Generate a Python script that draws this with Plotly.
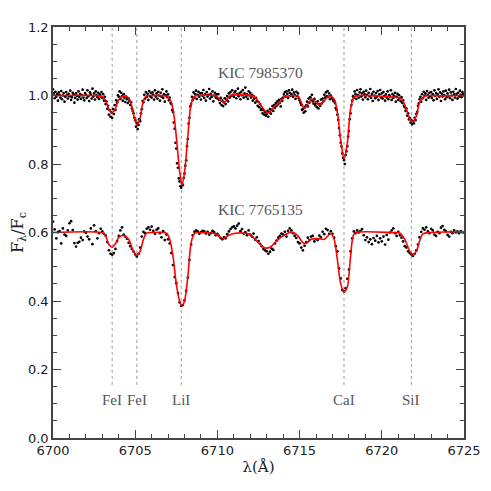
import numpy as np
import plotly.graph_objects as go

# 観測スペクトル（0.05Å刻み / 0.1Å刻み）
top_start, top_step = 6700.0, 0.05
top_flux = [
    1.018, 1.006, 0.992, 1.011, 0.997, 1.004, 0.985, 1.009, 1.002, 0.994, 1.013, 0.989, 1.000, 1.007, 0.982, 0.996, 1.010, 1.001, 0.991, 1.005,
    0.998, 1.014, 0.987, 0.995, 1.008, 1.003, 0.979, 0.993, 1.006, 0.999, 0.988, 1.012, 0.996, 1.004, 0.990, 1.001, 1.017, 0.994, 0.986, 1.007,
    1.002, 0.993, 1.015, 0.998, 0.984, 1.009, 1.003, 0.991, 1.020, 0.997, 1.006, 0.988, 1.012, 1.001, 0.995, 1.008, 0.990, 1.003, 0.997, 1.010,
    0.993, 1.004, 0.985, 0.996, 0.975, 0.983, 0.961, 0.970, 0.944, 0.957, 0.938, 0.951, 0.935, 0.960, 0.946, 0.972, 0.958, 0.986, 0.979, 1.001,
    0.996, 1.012, 0.990, 1.008, 0.998, 0.985, 1.004, 0.993, 0.981, 0.997, 0.989, 0.978, 0.992, 0.984, 0.972, 0.980, 0.962, 0.955, 0.948, 0.935,
    0.928, 0.909, 0.920, 0.902, 0.914, 0.931, 0.925, 0.948, 0.960, 0.984, 0.980, 1.002, 0.991, 1.010, 0.996, 1.005, 0.987, 1.013, 0.998, 1.007,
    0.994, 1.009, 1.002, 0.988, 1.015, 0.997, 1.006, 0.991, 1.011, 1.000, 0.985, 1.008, 0.996, 1.018, 0.993, 1.004, 0.982, 1.001, 1.012, 0.995,
    1.003, 0.986, 0.994, 0.978, 0.975, 0.958, 0.952, 0.921, 0.903, 0.862, 0.845, 0.802, 0.789, 0.758, 0.749, 0.735, 0.731, 0.744, 0.738, 0.759,
    0.772, 0.795, 0.811, 0.852, 0.873, 0.918, 0.935, 0.968, 0.975, 0.996, 0.987, 1.009, 0.993, 1.004, 1.014, 0.990, 1.002, 1.011, 0.996, 1.006,
    0.988, 1.007, 0.999, 1.016, 0.993, 1.004, 0.985, 1.010, 0.997, 1.002, 1.019, 0.991, 1.005, 0.996, 1.012, 0.983, 1.000, 1.008, 0.994, 1.003,
    0.991, 1.004, 0.987, 0.978, 0.993, 0.972, 0.985, 0.969, 0.980, 0.992, 0.975, 0.988, 0.998, 0.983, 1.006, 0.994, 1.010, 0.999, 1.015, 1.002,
    0.996, 1.009, 1.013, 0.992, 1.004, 1.020, 0.998, 1.007, 0.989, 1.011, 1.001, 1.016, 0.994, 1.006, 1.023, 0.997, 1.003, 0.990, 1.012, 1.000,
    1.008, 0.994, 1.002, 0.985, 0.998, 0.991, 0.979, 0.993, 0.984, 0.970, 0.981, 0.966, 0.975, 0.958, 0.962, 0.948, 0.957, 0.944, 0.952, 0.941,
    0.946, 0.955, 0.938, 0.951, 0.960, 0.947, 0.958, 0.969, 0.955, 0.972, 0.964, 0.978, 0.970, 0.983, 0.975, 0.987, 0.979, 0.968, 0.990, 0.984,
    0.994, 1.003, 1.010, 0.997, 1.012, 1.005, 0.993, 1.015, 1.008, 0.999, 1.004, 1.017, 0.996, 1.009, 1.002, 0.990, 1.011, 0.998, 1.006, 0.992,
    0.986, 0.979, 0.972, 0.958, 0.961, 0.950, 0.966, 0.954, 0.971, 0.982, 0.968, 0.991, 0.979, 0.995, 0.987, 1.002, 0.983, 0.976, 0.990, 0.971,
    0.978, 0.966, 0.983, 0.962, 0.975, 0.970, 0.988, 0.977, 0.991, 0.983, 1.002, 0.994, 1.009, 0.998, 1.013, 0.996, 1.006, 0.989, 1.000, 0.993,
    0.991, 0.985, 0.983, 0.978, 0.963, 0.958, 0.944, 0.929, 0.905, 0.884, 0.862, 0.851, 0.831, 0.818, 0.812, 0.800, 0.826, 0.837, 0.852, 0.880,
    0.896, 0.931, 0.948, 0.972, 0.985, 0.998, 0.993, 1.012, 1.004, 0.990, 1.016, 1.001, 0.994, 1.009, 1.018, 0.997, 1.006, 0.988, 1.011, 1.003,
    0.995, 1.014, 1.002, 0.989, 1.008, 0.998, 1.019, 0.993, 1.005, 0.984, 1.011, 1.000, 0.992, 1.007, 0.996, 1.013, 0.987, 1.003, 1.016, 0.994,
    1.006, 0.991, 1.010, 0.998, 0.985, 1.003, 0.994, 1.012, 0.989, 1.001, 0.996, 1.015, 0.987, 1.004, 0.993, 0.999, 1.008, 0.982, 0.996, 1.005,
    0.987, 1.001, 0.992, 0.983, 0.995, 0.978, 0.986, 0.970, 0.965, 0.955, 0.962, 0.941, 0.948, 0.930, 0.935, 0.921, 0.928, 0.916, 0.925, 0.919,
    0.935, 0.928, 0.946, 0.952, 0.970, 0.977, 0.989, 0.996, 0.982, 1.004, 0.992, 1.011, 0.999, 1.006, 0.987, 1.013, 1.002, 0.994, 1.008, 0.998,
    1.010, 0.993, 1.004, 0.986, 1.015, 0.999, 1.007, 0.990, 1.003, 1.018, 0.996, 1.009, 0.984, 1.005, 0.997, 1.012, 1.001, 0.989, 1.014, 0.995,
    1.006, 0.998, 1.017, 0.992, 1.009, 1.000, 0.987, 1.011, 1.003, 0.994, 1.019, 1.005, 0.991, 1.008, 0.997, 1.014, 1.002, 0.995, 1.010, 1.004,
    1.000,
]

bot_start, bot_step = 6700.0, 0.1
bot_flux = [
    0.632, 0.609, 0.583, 0.601, 0.604, 0.568, 0.612, 0.594, 0.590, 0.606,
    0.627, 0.633, 0.607, 0.569, 0.559, 0.570, 0.573, 0.585, 0.578, 0.603,
    0.599, 0.588, 0.580, 0.612, 0.566, 0.621, 0.604, 0.583, 0.598, 0.611,
    0.603, 0.596, 0.591, 0.572, 0.548, 0.538, 0.535, 0.540, 0.552, 0.575,
    0.590, 0.606, 0.615, 0.594, 0.588, 0.582, 0.570, 0.560, 0.552, 0.544,
    0.536, 0.530, 0.538, 0.556, 0.588, 0.602, 0.598, 0.611, 0.615, 0.608,
    0.617, 0.605, 0.596, 0.608, 0.612, 0.598, 0.586, 0.604, 0.578, 0.594,
    0.580, 0.568, 0.540, 0.505, 0.470, 0.452, 0.423, 0.396, 0.386, 0.388,
    0.402, 0.430, 0.468, 0.520, 0.565, 0.592, 0.602, 0.606, 0.603, 0.596,
    0.601, 0.605, 0.603, 0.597, 0.602, 0.594, 0.598, 0.605, 0.601, 0.592,
    0.596, 0.590, 0.584, 0.580, 0.586, 0.583, 0.595, 0.603, 0.610, 0.615,
    0.618, 0.612, 0.620, 0.626, 0.604, 0.610, 0.596, 0.601, 0.592, 0.606,
    0.594, 0.588, 0.597, 0.579, 0.586, 0.575, 0.567, 0.560, 0.552, 0.548,
    0.545, 0.538, 0.544, 0.553, 0.549, 0.568, 0.576, 0.585, 0.590, 0.597,
    0.594, 0.602, 0.588, 0.605, 0.612, 0.606, 0.598, 0.590, 0.584, 0.572,
    0.568, 0.556, 0.548, 0.561, 0.572, 0.585, 0.578, 0.588, 0.590, 0.574,
    0.581, 0.578, 0.591, 0.586, 0.602, 0.595, 0.611, 0.607, 0.596, 0.604,
    0.596, 0.585, 0.560, 0.545, 0.495, 0.466, 0.432, 0.428, 0.437, 0.465,
    0.492, 0.545, 0.583, 0.603, 0.598, 0.606, 0.600, 0.605, 0.610, 0.592,
    0.578, 0.586, 0.572, 0.580, 0.566, 0.584, 0.576, 0.590, 0.571, 0.583,
    0.574, 0.588, 0.565, 0.593, 0.579, 0.600, 0.606, 0.612, 0.598, 0.590,
    0.602, 0.592, 0.585, 0.574, 0.560, 0.556, 0.545, 0.540, 0.536, 0.532,
    0.538, 0.548, 0.565, 0.586, 0.602, 0.612, 0.608, 0.615, 0.603, 0.598,
    0.611, 0.606, 0.594, 0.590, 0.602, 0.598, 0.614, 0.619, 0.608, 0.604,
    0.593, 0.588, 0.602, 0.598, 0.606, 0.600, 0.603, 0.598, 0.604, 0.601,
    0.600,
]

# 合成スペクトル（赤線）の節点
top_model_wl = [6700.0, 6702.5, 6703.0, 6703.2, 6703.4, 6703.6, 6703.8, 6704.0, 6704.2, 6704.5, 6704.7, 6704.9,
                6705.1, 6705.3, 6705.5, 6705.7, 6706.0, 6706.8, 6707.1, 6707.3, 6707.5, 6707.7, 6707.85, 6708.0,
                6708.2, 6708.4, 6708.6, 6708.8, 6709.9, 6710.2, 6710.4, 6710.6, 6710.8, 6712.2, 6712.6, 6713.0,
                6713.2, 6713.5, 6713.8, 6714.1, 6714.5, 6714.9, 6715.1, 6715.3, 6715.5, 6715.75, 6716.0, 6716.2,
                6716.5, 6716.8, 6717.1, 6717.3, 6717.5, 6717.7, 6717.9, 6718.1, 6718.3, 6718.6, 6720.0, 6720.8,
                6721.2, 6721.5, 6721.7, 6721.9, 6722.1, 6722.3, 6722.6, 6723.5, 6725.0]
top_model_flux = [1.000, 1.000, 0.997, 0.985, 0.960, 0.949, 0.962, 0.988, 0.997, 0.996, 0.985, 0.945,
                  0.915, 0.935, 0.985, 0.999, 1.000, 0.999, 0.990, 0.960, 0.880, 0.780, 0.740, 0.775,
                  0.880, 0.975, 0.997, 1.000, 0.999, 0.985, 0.980, 0.990, 1.000, 0.998, 0.975, 0.950,
                  0.952, 0.970, 0.980, 0.996, 1.000, 0.998, 0.980, 0.962, 0.975, 0.990, 0.980, 0.972,
                  0.985, 0.999, 0.990, 0.950, 0.870, 0.815, 0.860, 0.960, 0.995, 1.000, 0.998, 0.995,
                  0.990, 0.960, 0.930, 0.924, 0.940, 0.980, 0.998, 0.999, 1.000]

bot_model_wl = [6700.0, 6703.0, 6703.2, 6703.4, 6703.6, 6703.8, 6704.0, 6704.3, 6704.6, 6704.85, 6705.1, 6705.3,
                6705.5, 6705.7, 6706.0, 6706.9, 6707.1, 6707.3, 6707.5, 6707.7, 6707.85, 6708.0, 6708.2, 6708.4,
                6708.6, 6708.9, 6709.9, 6710.2, 6710.4, 6710.7, 6711.1, 6711.7, 6712.0, 6712.5, 6712.9, 6713.2,
                6713.6, 6714.0, 6714.5, 6714.9, 6715.2, 6715.4, 6715.7, 6716.1, 6716.5, 6716.9, 6717.1, 6717.3,
                6717.5, 6717.7, 6717.9, 6718.1, 6718.3, 6718.6, 6720.5, 6721.1, 6721.4, 6721.7, 6721.9, 6722.1,
                6722.3, 6722.5, 6723.0, 6725.0]
bot_model_flux = [0.600, 0.599, 0.590, 0.565, 0.557, 0.567, 0.586, 0.591, 0.580, 0.550, 0.533, 0.545,
                  0.580, 0.598, 0.600, 0.598, 0.580, 0.530, 0.450, 0.400, 0.386, 0.400, 0.470, 0.570,
                  0.597, 0.600, 0.596, 0.585, 0.583, 0.592, 0.598, 0.598, 0.594, 0.570, 0.555, 0.557,
                  0.575, 0.590, 0.601, 0.590, 0.570, 0.568, 0.580, 0.582, 0.580, 0.597, 0.580, 0.520,
                  0.450, 0.427, 0.440, 0.530, 0.595, 0.601, 0.600, 0.598, 0.580, 0.545, 0.536, 0.545,
                  0.575, 0.596, 0.600, 0.602]

# 吸収線
line_wl = [6703.6, 6705.1, 6707.8, 6717.7, 6721.8]
line_names = ["FeI", "FeI", "LiI", "CaI", "SiI"]

star_names = ["KIC 7985370", "KIC 7765135"]
star_label_x = 6712.65
star_label_y = [1.066, 0.666]

top_wl = np.round(top_start + top_step * np.arange(len(top_flux)), 3)
bot_wl = np.round(bot_start + bot_step * np.arange(len(bot_flux)), 3)

fig = go.Figure()

# 吸収線の位置（点線）
for w in line_wl:
    fig.add_shape(type="line", x0=w, x1=w, y0=0.155, y1=1.2, xref="x", yref="y",
                  line=dict(color="#999999", width=1, dash="dot"), layer="below")

for wl, fl in [(top_wl, top_flux), (bot_wl, bot_flux)]:
    fig.add_trace(go.Scatter(x=wl, y=fl, mode="markers",
                             marker=dict(color="black", size=2.7), showlegend=False))

for wl, fl in [(top_model_wl, top_model_flux), (bot_model_wl, bot_model_flux)]:
    fig.add_trace(go.Scatter(x=wl, y=fl, mode="lines",
                             line=dict(color="#ff0000", width=1.6, shape="spline", smoothing=0.8),
                             showlegend=False))

for w, name in zip(line_wl, line_names):
    fig.add_annotation(x=w, y=0.11, text=name, showarrow=False,
                       font=dict(family="Liberation Serif", size=15, color="#555555"))

for name, y in zip(star_names, star_label_y):
    fig.add_annotation(x=star_label_x, y=y, text=name, showarrow=False,
                       font=dict(family="Liberation Serif", size=15.5, color="#555555"))

axis_common = dict(
    showline=True, linecolor="#444444", linewidth=1.5, mirror="allticks",
    ticks="inside", ticklen=8, tickwidth=1, tickcolor="#444444",
    showgrid=False, zeroline=False, automargin=False,
    tickfont=dict(family="DejaVu Sans", size=13, color="#222222"),
)

fig.update_xaxes(range=[6700, 6725], dtick=5, tick0=6700,
                 minor=dict(ticks="inside", dtick=1, ticklen=4, tickcolor="#444444"),
                 title=dict(text="λ(Å)", font=dict(family="DejaVu Serif", size=15, color="#222222"), standoff=4),
                 **axis_common)
fig.update_yaxes(range=[0, 1.2], dtick=0.2, tick0=0, tickformat=".1f",
                 minor=dict(ticks="inside", dtick=0.05, ticklen=4, tickcolor="#444444"),
                 title=dict(text="F<sub>λ</sub>/F<sub>c</sub>", font=dict(family="DejaVu Serif", size=16, color="#222222"), standoff=8),
                 **axis_common)

# ページ本体の余白（8px）を見込んで図の大きさを決める
fig.update_layout(
    width=483, height=483,
    margin=dict(l=45, r=27, t=19, b=53),
    plot_bgcolor="white", paper_bgcolor="white",
)

fig.write_html("out.html")
